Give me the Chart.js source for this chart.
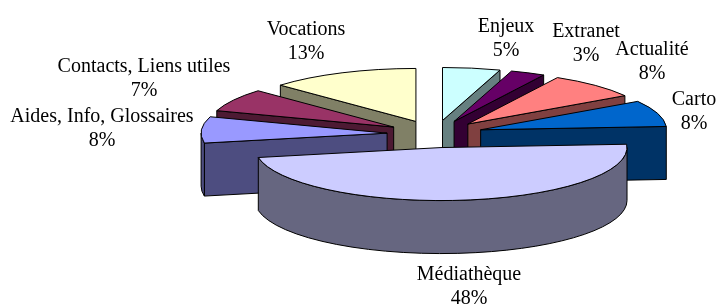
<!DOCTYPE html>
<html lang="fr">
<head>
  <meta charset="UTF-8" />
  <title>Répartition des pages</title>
  <script src="https://cdn.jsdelivr.net/npm/chart.js"></script>
  <style>
    body { margin: 0; background: #fff; }
    #wrap { width: 718px; height: 304px; }
  </style>
</head>
<body>
  <div id="wrap"><canvas id="pie3d" width="718" height="304"></canvas></div>

  <script>
    // data, clockwise from 12 o'clock
    const categories = ["Enjeux", "Extranet", "Actualité", "Carto", "Médiathèque",
                        "Aides, Info, Glossaires", "Contacts, Liens utiles", "Vocations"];
    const shares = [5, 3, 8, 8, 48, 8, 7, 13];

    const topColors  = ["#CCFFFF", "#660066", "#FF8080", "#0066CC", "#CCCCFF", "#9999FF", "#993366", "#FFFFCC"];
    const sideColors = ["#668080", "#330033", "#804040", "#003366", "#666680", "#4D4D80", "#4D1A33", "#808066"];

    // label anchor: centre x, baseline of first line
    const labelPos = [[506, 32], [586, 37], [652, 55], [694, 105], [469, 280], [102, 122], [144, 72], [306, 35]];

    // pie geometry
    const geo = { cx: 435, cy: 134, rx: 186, ry: 53, explode: 48, depth: 53 };

    const pie3d = {
      id: 'pie3d',
      afterDatasetsDraw(chart) {
        const ctx = chart.ctx;
        const arcs = chart.getDatasetMeta(0).data;
        const k = geo.ry / geo.rx;

        const slices = arcs.map((arc, i) => {
          const s = arc.startAngle, e = arc.endAngle, m = (s + e) / 2;
          return {
            i, s, e, m,
            tx: geo.cx + geo.explode * Math.cos(m),
            ty: geo.cy + geo.explode * Math.sin(m) * k
          };
        });
        // back slices first
        slices.sort((a, b) => Math.sin(a.m) - Math.sin(b.m));

        ctx.save();
        ctx.lineWidth = 1;
        ctx.strokeStyle = '#000';
        ctx.lineJoin = 'round';

        const pt = (sl, a) => [sl.tx + geo.rx * Math.cos(a), sl.ty + geo.ry * Math.sin(a)];

        slices.forEach(sl => {
          const d = geo.depth;
          ctx.fillStyle = sideColors[sl.i];

          // radial faces
          const radial = a => {
            const [x, y] = pt(sl, a);
            ctx.beginPath();
            ctx.moveTo(sl.tx, sl.ty);
            ctx.lineTo(x, y);
            ctx.lineTo(x, y + d);
            ctx.lineTo(sl.tx, sl.ty + d);
            ctx.closePath();
            ctx.fill();
            ctx.stroke();
          };
          if (Math.cos(sl.s) < 0) radial(sl.s);
          if (Math.cos(sl.e) > 0) radial(sl.e);

          // outer curved face on the front half
          const a0 = Math.max(sl.s, 0), a1 = Math.min(sl.e, Math.PI);
          if (a1 > a0) {
            ctx.beginPath();
            ctx.ellipse(sl.tx, sl.ty, geo.rx, geo.ry, 0, a0, a1);
            ctx.ellipse(sl.tx, sl.ty + d, geo.rx, geo.ry, 0, a1, a0, true);
            ctx.closePath();
            ctx.fill();
            ctx.stroke();
          }

          // top face
          ctx.fillStyle = topColors[sl.i];
          ctx.beginPath();
          ctx.moveTo(sl.tx, sl.ty);
          ctx.ellipse(sl.tx, sl.ty, geo.rx, geo.ry, 0, sl.s, sl.e);
          ctx.closePath();
          ctx.fill();
          ctx.stroke();
        });

        // labels
        const total = shares.reduce((a, b) => a + b, 0);
        ctx.fillStyle = '#000';
        ctx.font = '20px "Liberation Serif", "Times New Roman", serif';
        ctx.textAlign = 'center';
        ctx.textBaseline = 'alphabetic';
        categories.forEach((c, i) => {
          const [x, y] = labelPos[i];
          ctx.fillText(c, x, y);
          ctx.fillText(Math.round(shares[i] / total * 100) + '%', x, y + 23.5);
        });
        ctx.restore();
      }
    };

    new Chart(document.getElementById('pie3d'), {
      type: 'pie',
      data: {
        labels: categories,
        datasets: [{
          data: shares,
          backgroundColor: 'rgba(0,0,0,0)',
          borderWidth: 0,
          hoverOffset: 0
        }]
      },
      options: {
        responsive: false,
        animation: false,
        events: [],
        plugins: {
          legend: { display: false },
          tooltip: { enabled: false }
        }
      },
      plugins: [pie3d]
    });
  </script>
</body>
</html>
